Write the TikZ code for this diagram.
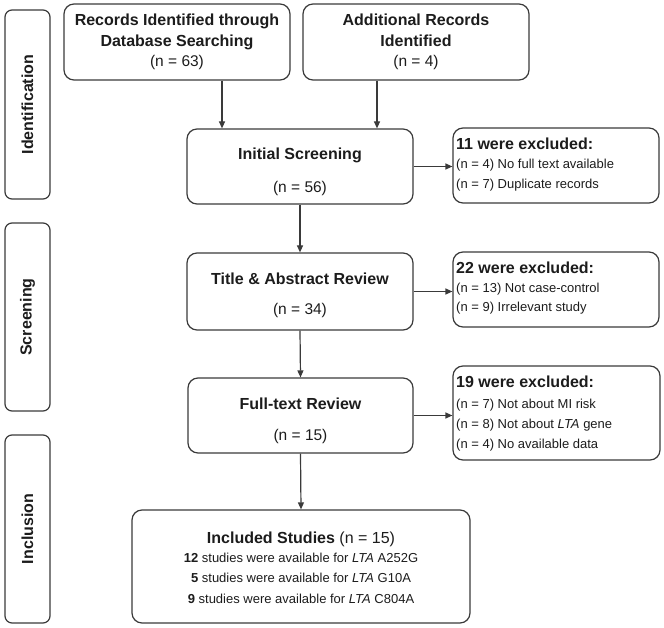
\documentclass[tikz,border=0pt]{standalone}
\usepackage{fontspec}
\setmainfont{Liberation Sans}
\usetikzlibrary{arrows.meta,calc}
\definecolor{edge}{HTML}{3A3A3A}
\definecolor{ink}{HTML}{1C1C1C}
\tikzset{
  box/.style={draw=edge, line width=1.2pt, rounded corners=10pt, inner sep=0pt},
  side/.style={draw=edge, line width=1.2pt, rounded corners=7pt, inner sep=0pt,
     rotate=90, minimum height=45pt, text=ink, font=\fontsize{16}{19}\selectfont\bfseries},
  arr/.style={draw=edge, line width=1.2pt, -{Triangle[length=7pt,width=6pt]}},
  ttl/.style={font=\fontsize{16}{19}\selectfont\bfseries, text=ink, inner sep=0pt, anchor=base},
  num/.style={font=\fontsize{15.5}{19}\selectfont, text=ink, inner sep=0pt, anchor=base},
  exh/.style={font=\fontsize{16}{19}\selectfont\bfseries, text=ink, inner sep=0pt, anchor=base west},
  exl/.style={font=\fontsize{13}{16}\selectfont, text=ink, inner sep=0pt, anchor=base west},
  incl/.style={font=\fontsize{13}{16}\selectfont, text=ink, inner sep=0pt, anchor=base},
}
\begin{document}
\begin{tikzpicture}[x=1pt,y=-1pt]
\useasboundingbox (0,0) rectangle (664,628);
% side phase labels
\node[side, minimum width=189pt] (sid) at (27.5,104.5) {Identification};
\node[side, minimum width=188pt] (sscr) at (27.5,317) {Screening};
\node[side, minimum width=188pt] (sinc) at (27.5,529) {Inclusion};
% boxes
\node[box, minimum width=226pt, minimum height=76pt] (rec) at (177,42) {};
\node[box, minimum width=226pt, minimum height=76pt] (add) at (416,42) {};
\node[box, minimum width=226pt, minimum height=75pt] (init) at (300,166.5) {};
\node[box, minimum width=206pt, minimum height=75pt] (ex1) at (556,165.5) {};
\node[box, minimum width=226pt, minimum height=77pt] (tab) at (300,291.5) {};
\node[box, minimum width=206pt, minimum height=75pt] (ex2) at (556,289.5) {};
\node[box, minimum width=225pt, minimum height=75pt] (ft) at (300.5,415.5) {};
\node[box, minimum width=207pt, minimum height=94pt] (ex3) at (556.5,413) {};
\node[box, minimum width=338pt, minimum height=113pt] (inc) at (301,566.5) {};
% texts
\node[ttl] (rect1) at (177,26) {Records Identified through};
\node[ttl] (rect2) at (177,46.7) {Database Searching};
\node[num] (rect3) at (177,66.7) {(n = 63)};
\node[ttl] (addt1) at (416,26) {Additional Records};
\node[ttl] (addt2) at (416,46.7) {Identified};
\node[num] (addt3) at (416,66.7) {(n = 4)};
\node[ttl] (initt1) at (300,160) {Initial Screening};
\node[num] (initt2) at (300,192.7) {(n = 56)};
\node[ttl] (tabt1) at (300,285) {Title \& Abstract Review};
\node[num] (tabt2) at (300,314.5) {(n = 34)};
\node[ttl] (ftt1) at (300.5,409.3) {Full-text Review};
\node[num] (ftt2) at (300.5,440) {(n = 15)};
\node[exh] (ex1h) at (456,149.5) {11 were excluded:};
\node[exl] (ex1a) at (456,169) {(n = 4) No full text available};
\node[exl] (ex1b) at (456,188.5) {(n = 7) Duplicate records};
\node[exh] (ex2h) at (456,274) {22 were excluded:};
\node[exl] (ex2a) at (456,293) {(n = 13) Not case-control};
\node[exl] (ex2b) at (456,312) {(n = 9) Irrelevant study};
\node[exh] (ex3h) at (456,387.7) {19 were excluded:};
\node[exl] (ex3a) at (456,408) {(n = 7) Not about MI risk};
\node[exl] (ex3b) at (456,428) {(n = 8) Not about \textit{LTA} gene};
\node[exl] (ex3c) at (456,448) {(n = 4) No available data};
\node[ttl] (inct) at (301,543.3) {Included Studies \textmd{(n = 15)}};
\node[incl] (incl1) at (301,562.5) {\textbf{12} studies were available for \textit{LTA} A252G};
\node[incl] (incl2) at (301,582.8) {\textbf{5} studies were available for \textit{LTA} G10A};
\node[incl] (incl3) at (301,603.3) {\textbf{9} studies were available for \textit{LTA} C804A};
% connectors
\draw[arr] ([xshift=45pt]rec.south) -- ([xshift=-78pt]init.north);
\draw[arr] ([xshift=-39pt]add.south) -- ([xshift=77pt]init.north);
\draw[arr] (init.south) -- (tab.north);
\draw[arr] (tab.south) -- (ft.north);
\draw[arr] (ft.south) -- (inc.north);
\draw[arr] (init.east) -- (init.east -| ex1.west);
\draw[arr] (tab.east) -- (tab.east -| ex2.west);
\draw[arr] (ft.east) -- (ft.east -| ex3.west);
\end{tikzpicture}
\end{document}
